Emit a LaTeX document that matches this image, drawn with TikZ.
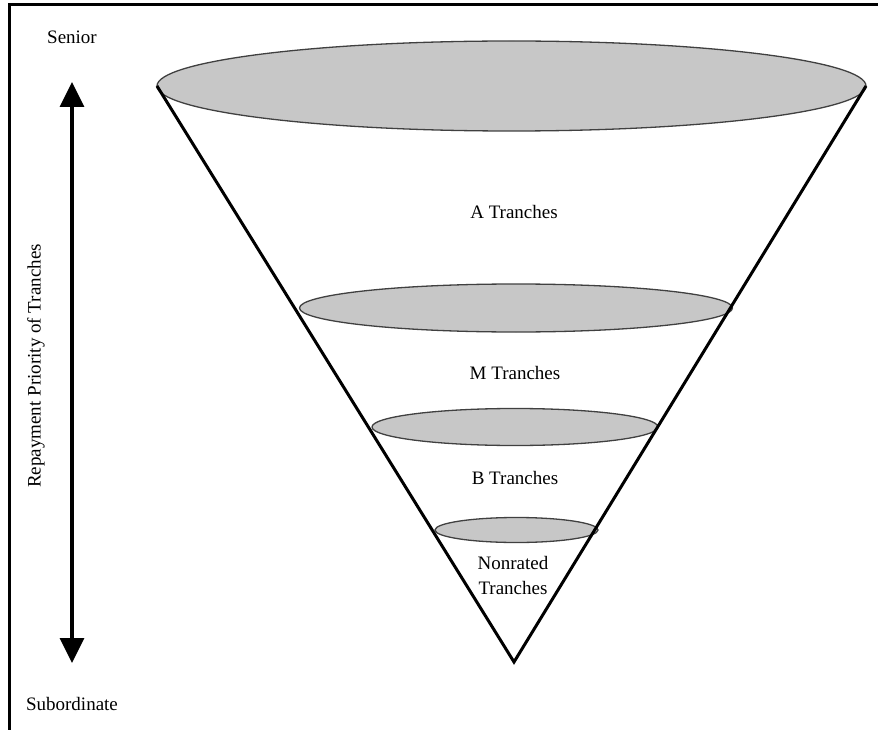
\documentclass[tikz,border=0pt]{standalone}
\usepackage{fontspec}
\setmainfont{Liberation Serif}
\usetikzlibrary{shapes.geometric}
\usetikzlibrary{arrows.meta}

\begin{document}
\begin{tikzpicture}[x=1pt, y=-1pt,
    capa/.style={draw=black!75, line width=1.3pt, fill=black!22, ellipse, inner sep=0pt, outer sep=0pt},
    texto/.style={font=\fontsize{19}{25}\selectfont, align=center, inner sep=0pt}]
            \useasboundingbox (0,0) rectangle (878,730);
            % Marco
            \draw[line width=3pt] (9,730) -- (9,5) -- (878,5);

            % Capas
            \node[capa, minimum width=709pt, minimum height=90pt] (capaA) at (511.5,86) {};
            \node[capa, minimum width=433pt, minimum height=48pt] (capaM) at (516,308) {};
            \node[capa, minimum width=286pt, minimum height=37pt] (capaB) at (515,427) {};
            \node[capa, minimum width=163pt, minimum height=25pt] (capaN) at (516.5,530) {};
            \coordinate (fondo) at (514,662);

            % Cono
            \draw[line width=3pt, line join=miter] (capaA.west) -- (fondo) -- (capaA.east);

            % Textos
            \node[texto] (ta) at (514,212) {A Tranches};
            \node[texto] (tm) at (515,373) {M Tranches};
            \node[texto] (tb) at (515,478) {B Tranches};
            \node[texto] (tn) at (513,575) {Nonrated\\Tranches};
            \node[texto] (senior) at (72,37) {Senior};
            \node[texto] (subord) at (72,704) {Subordinate};
            \node[texto, rotate=90] (prioridad) at (36,366) {Repayment Priority of Tranches};

            % Flecha
            \coordinate (arriba) at (72,82);
            \coordinate (abajo) at (72,663);
            \draw[line width=3.5pt, {Triangle[width=24pt,length=25pt]}-{Triangle[width=24pt,length=25pt]}] (arriba) -- (abajo);
          \end{tikzpicture}
\end{document}
